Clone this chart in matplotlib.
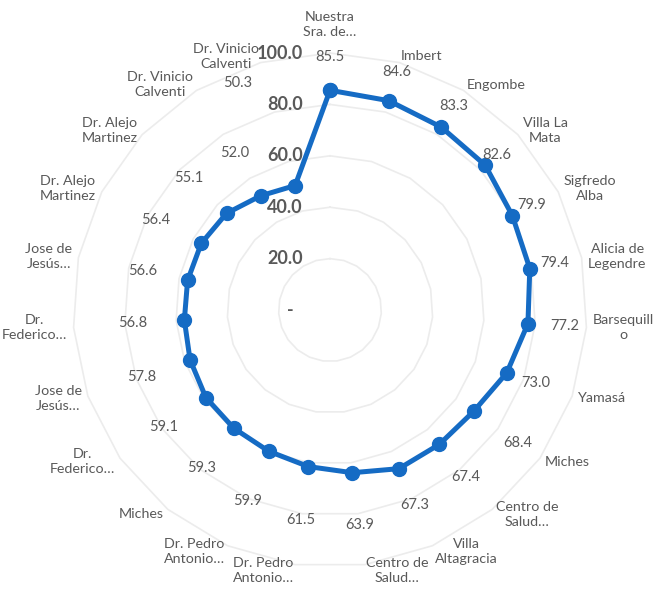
import numpy as np
import matplotlib
matplotlib.use("Agg")
import matplotlib.pyplot as plt

plt.rcParams['font.family'] = ['Lato', 'DejaVu Sans']

categories = [
    "Nuestra\nSra. de…", "Imbert", "Engombe", "Villa La\nMata", "Sigfredo\nAlba",
    "Alicia de\nLegendre", "Barsequill\no", "Yamasá", "Miches", "Centro de\nSalud…",
    "Villa\nAltagracia", "Centro de\nSalud…", "Dr. Pedro\nAntonio…", "Dr. Pedro\nAntonio…",
    "Miches", "Dr.\nFederico…", "Jose de\nJesús…", "Dr.\nFederico…", "Jose de\nJesús…",
    "Dr. Alejo\nMartinez", "Dr. Alejo\nMartinez", "Dr. Vinicio\nCalventi", "Dr. Vinicio\nCalventi",
]
values = [85.5, 84.6, 83.3, 82.6, 79.9, 79.4, 77.2, 73.0, 68.4, 67.4, 67.3, 63.9,
          61.5, 59.9, 59.3, 59.1, 57.8, 56.8, 56.6, 56.4, 55.1, 52.0, 50.3]
levels = [20, 40, 60, 80, 100]

# how far each value label sits outside its point (radial units), placement only
label_pad = [13, 11.5, 9.5, 6, 8.5, 10, 14.5, 12, 21, 16.5, 15.5, 20.5,
             21, 21, 20, 20, 20, 20, 18, 20, 20, 19.5, 45]
label_turn = {22: -6.5}

text_gray = "#595959"
blue = "#156BC4"

n = len(values)
angles = np.linspace(0, 2 * np.pi, n, endpoint=False)

fig = plt.figure(figsize=(6.6, 5.93), dpi=100)
ax = fig.add_axes([0.1106, 0.0438, 0.7788, 0.8668], projection='polar')
ax.set_theta_zero_location('N')
ax.set_theta_direction(-1)
ax.set_ylim(0, 100)
ax.grid(False)
ax.spines['polar'].set_visible(False)
ax.set_xticks([])
ax.set_yticks([])

# polygon grid
ring_angles = np.append(angles, angles[0])
for lv in levels:
    ax.plot(ring_angles, [lv] * (n + 1), color="#ececec", linewidth=1.2, zorder=1, clip_on=False)

# axis value labels
for lv in levels:
    ax.annotate(f"{lv:.1f}", xy=(0, lv), xytext=(-27, 0), textcoords='offset pixels',
                ha='right', va='center', fontsize=13, fontweight='bold', color=text_gray)
ax.annotate("-", xy=(0, 0), xytext=(-36, 0), textcoords='offset pixels',
            ha='right', va='center', fontsize=13, fontweight='bold', color=text_gray)

# series
vals_closed = values + values[:1]
ax.plot(ring_angles, vals_closed, color=blue, linewidth=3.6, marker='o',
        markersize=10, zorder=3, clip_on=False)

# data labels
for i, v in enumerate(values):
    th = angles[i] + np.deg2rad(label_turn.get(i, 0))
    ax.text(th, v + label_pad[i], f"{v:.1f}", ha='center', va='center',
            fontsize=10.5, color=text_gray, zorder=4)

# category labels: anchored just past the outer ring, flowing away from the vertical axis
for i, name in enumerate(categories):
    s = np.sin(angles[i])
    if abs(s) < 0.05:
        ha, va, r = 'center', 'bottom', 106
    else:
        ha, va, r = ('left' if s > 0 else 'right'), 'center', 102.5
    ax.text(angles[i], r, name, ha=ha, va=va, multialignment='center',
            fontsize=10.3, color=text_gray, linespacing=1.3)

fig.savefig("out.png", dpi=100)
